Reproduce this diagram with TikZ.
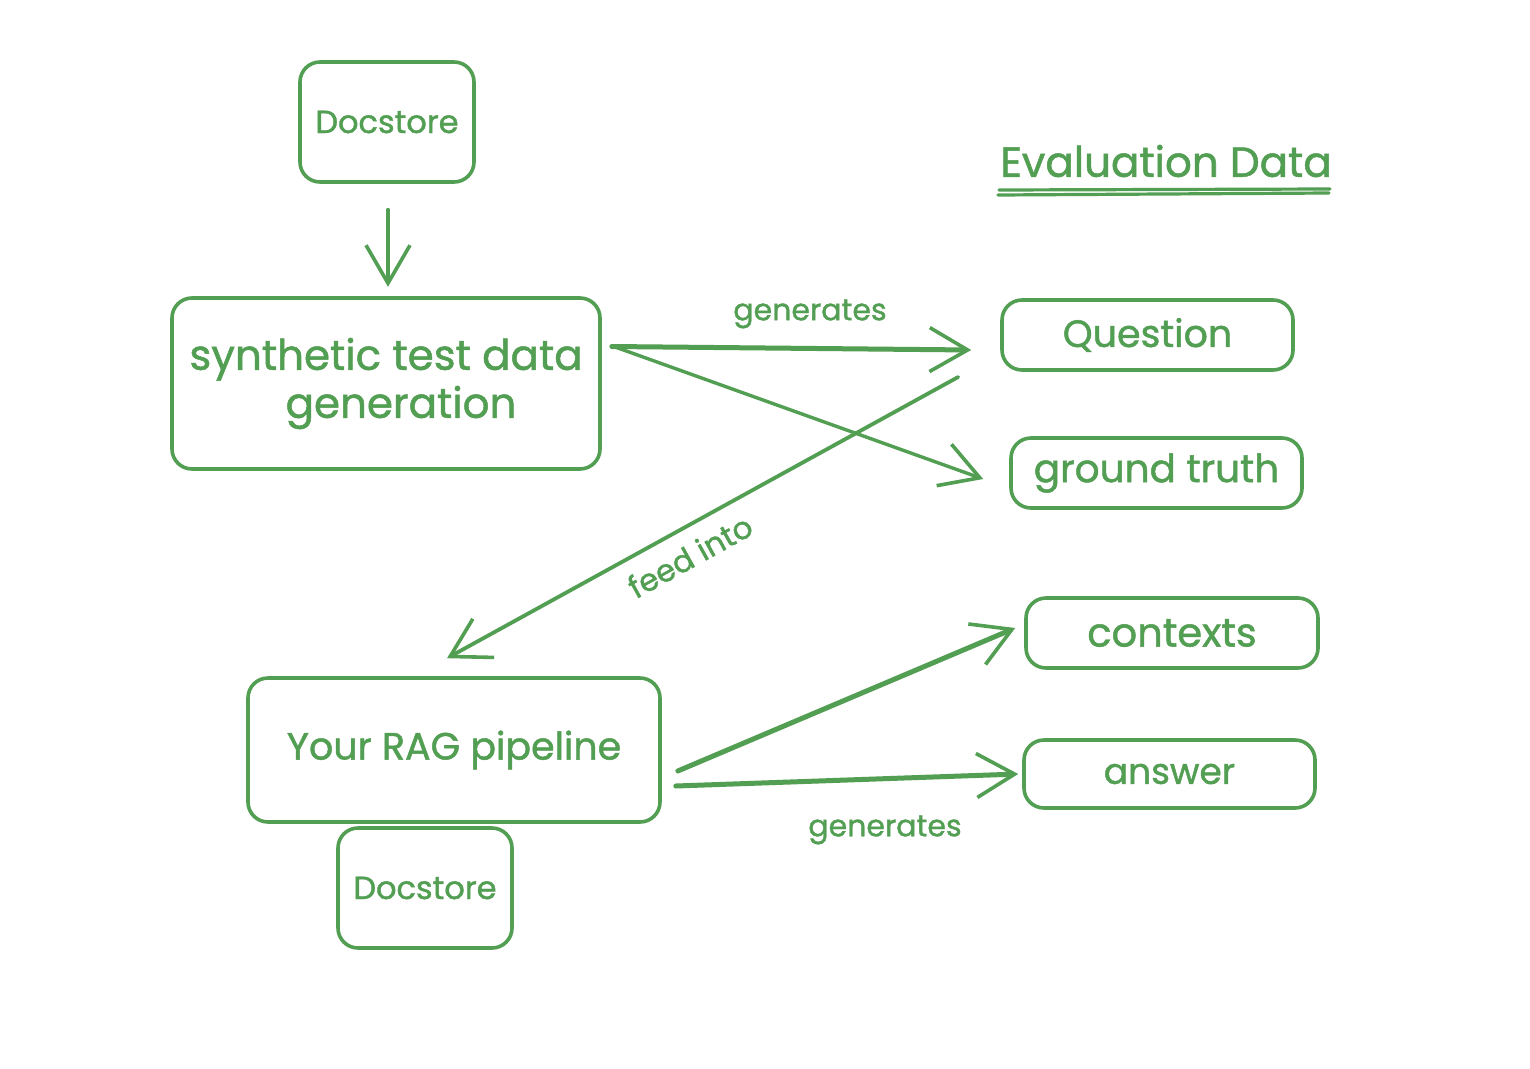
\documentclass[tikz,border=0pt]{standalone}
\usepackage{fontspec}
\setmainfont{Poppins}[FakeBold=1.2]
\usetikzlibrary{arrows.meta,calc}
\definecolor{eg}{RGB}{82,158,82}
\tikzset{
  box/.style={draw=eg, line width=3.6pt, rounded corners=20pt, text=eg, inner sep=0pt, align=center},
  lbl/.style={text=eg, inner sep=0pt},
  conn/.style={draw=eg, line width=4pt, line cap=round, -{Straight Barb[length=38pt,width=44pt,line width=3.6pt]}},
}
\newcommand{\fs}[1]{\fontsize{#1}{1.2\dimexpr#1pt\relax}\selectfont}
\begin{document}
\begin{tikzpicture}[x=1pt,y=-1pt]
\useasboundingbox (0,0) rectangle (1530,1068);
\fill[white] (0,0) rectangle (1530,1068);
% boxes
\node[box, minimum width=174pt, minimum height=120pt, font=\fs{32}] (ds1) at (387,122) {Docstore};
\node[box, minimum width=428pt, minimum height=171pt, font={\fontsize{42}{50}\selectfont}] (syn) at (386,383.5) {synthetic test data\\[-2pt]\hspace*{30pt}generation};
\node[box, minimum width=412pt, minimum height=144pt, font=\fs{38}] (rag) at (454,750) {Your RAG pipeline};
\node[box, minimum width=174pt, minimum height=120pt, font=\fs{32}] (ds2) at (425,888) {Docstore};
\node[box, minimum width=291pt, minimum height=70pt, font=\fs{38}] (q) at (1147.5,335) {Question};
\node[box, minimum width=291pt, minimum height=70pt, font=\fs{39}] (gt) at (1156.5,473) {ground truth};
\node[box, minimum width=292pt, minimum height=70pt, font=\fs{40}] (ctx) at (1172,633) {contexts};
\node[box, minimum width=291pt, minimum height=68pt, font=\fs{36}] (ans) at (1169.5,774) {answer};
% title
\node[lbl, font=\fs{42}] (title) at (1166,161) {Evaluation Data};
\draw[eg, line width=3.2pt, line cap=round] (999,190) -- (1330,189);
\draw[eg, line width=3.2pt, line cap=round] (998,195) -- (1329,193);
% connectors
\draw[conn] ($(ds1.south)+(1,26)$) -- ($(ds1.south)+(1,103)$);
\draw[conn, line width=5pt] ($(syn.east)+(10,-37)$) -- ($(q.west)+(-29,15)$);
\node[lbl, font=\fs{30}] (g1) at (810,314) {generates};
\draw[conn, line width=3.4pt] ($(syn.east)+(12,-37)$) -- ($(gt.west)+(-26,6)$);
\draw[conn, line width=3.8pt] ($(q.west)+(-42,42)$) -- ($(rag.north)+(-7,-18)$);
\node[lbl, font=\fs{31}, rotate=29] (fi) at (690,556) {feed into};
\draw[conn, line width=5pt] ($(rag.east)+(16,21)$) -- ($(ctx.west)+(-9,-5)$);
\draw[conn, line width=5pt] ($(rag.east)+(14,36)$) -- ($(ans.west)+(-4,0)$);
\node[lbl, font=\fs{30}] (g2) at (885,830) {generates};
\end{tikzpicture}
\end{document}
